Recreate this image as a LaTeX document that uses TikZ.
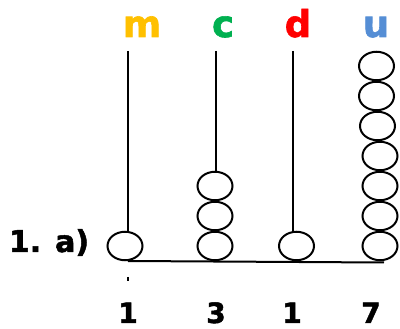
\documentclass[tikz,border=0pt]{standalone}
\usepackage{fontspec}
\setmainfont{DejaVu Sans}
\newfontfamily\heavyfont{DejaVu Sans Bold}[FakeBold=1.6]
\usetikzlibrary{shapes.geometric,positioning}
\definecolor{colm}{HTML}{FFC000}
\definecolor{colc}{HTML}{00B050}
\definecolor{cold}{HTML}{FF0000}
\definecolor{colu}{HTML}{558ED5}

\begin{document}
\begin{tikzpicture}[x=1pt, y=-1pt]
    % Define styles
    \tikzstyle{bead} = [ellipse, draw, line width=2pt, minimum width=35pt, minimum height=28.5pt, inner sep=0pt]
    \tikzstyle{rod} = [line width=2pt]
    \tikzstyle{place} = [font=\heavyfont\fontsize{37}{40}\selectfont, anchor=base, inner sep=0pt]
    \tikzstyle{digit} = [font=\heavyfont\fontsize{28}{30}\selectfont, anchor=base, inner sep=0pt]
    \useasboundingbox (0,0) rectangle (400,329);

    % Place value headings
    \node [place, text=colm] (hm) at (142,37) {m};
    \node [place, text=colc] (hc) at (223,37) {c};
    \node [place, text=cold] (hd) at (298,37) {d};
    \node [place, text=colu] (hu) at (376,37) {u};

    % Exercise label
    \node [digit, font=\heavyfont\fontsize{30}{32}\selectfont] (lbl) at (49,252) {1. a)};

    % Rod tops
    \coordinate (tm) at (128,51);
    \coordinate (tc) at (216,51);
    \coordinate (td) at (293,51);

    % Beads
    \node [bead] (m1) at (125,246) {};
    \foreach \i/\y in {1/246,2/216,3/186}
        \node [bead] (c\i) at (215,\y) {};
    \node [bead] (d1) at (296.5,246) {};
    \foreach \i/\x in {1/380,2/380,3/380,4/380,5/377.5,6/376.5,7/376.5}
        \node [bead] (u\i) at ({\x},{276-30*\i}) {};

    % Rods
    \draw [rod] (tm) -- (tm |- m1.north);
    \draw [rod] (tc) -- (tc |- c3.north);
    \draw [rod] (td) -- (td |- d1.north);

    % Base line and tick
    \coordinate (bl) at (128,261);
    \coordinate (br) at (384,262.5);
    \draw [rod] (bl) -- (br);
    \coordinate (k1) at (128,277);
    \coordinate (k2) at (128,281);
    \draw [rod] (k1) -- (k2);

    % Digits
    \node [digit] (n1) at (128,323) {1};
    \node [digit] (n2) at (216,323) {3};
    \node [digit] (n3) at (292,323) {1};
    \node [digit] (n4) at (371,323) {7};
\end{tikzpicture}
\end{document}
